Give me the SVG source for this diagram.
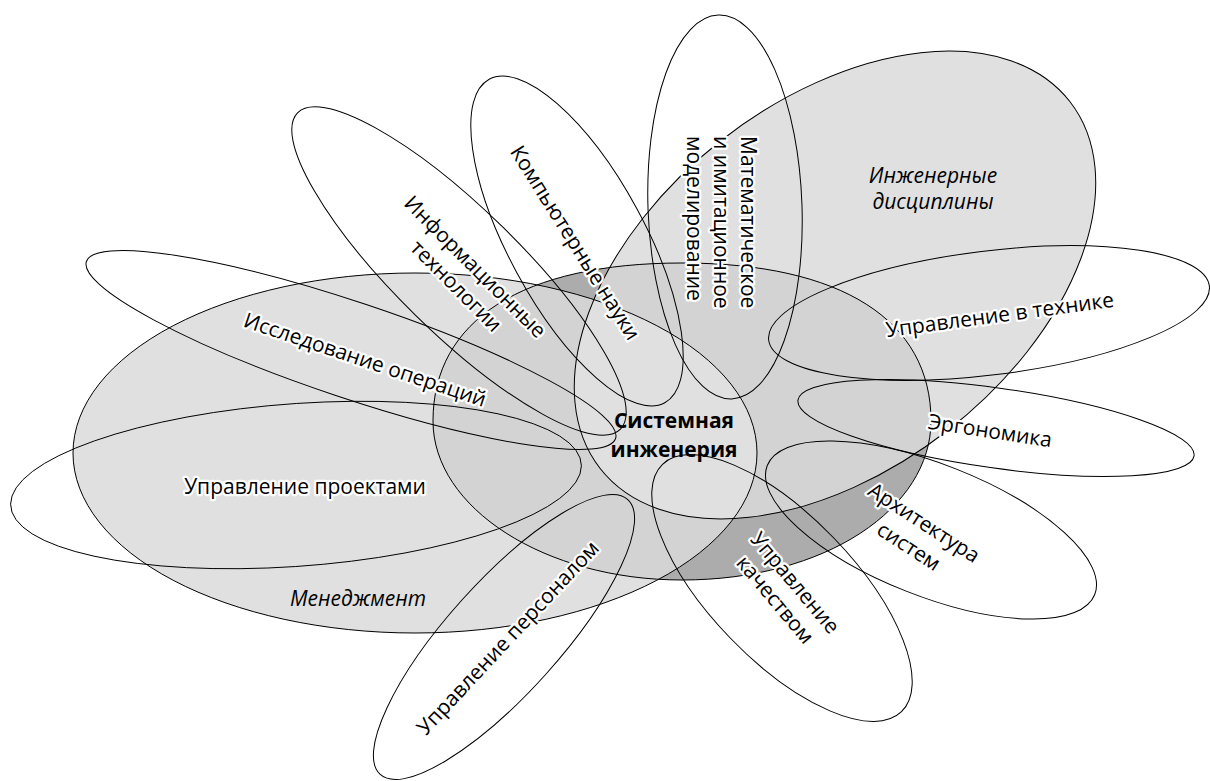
<svg xmlns="http://www.w3.org/2000/svg" width="1210" height="781" viewBox="0 0 1210 781">
<style>
.ol{fill:none;stroke:#000;stroke-width:1}
.lb{font-family:"Open Sans","Liberation Sans",sans-serif;font-size:21px;fill:#000;text-anchor:middle;stroke:#fff;stroke-width:4.5;stroke-linejoin:round;paint-order:stroke}
.it{font-family:"Open Sans","Liberation Sans",sans-serif;font-size:21px;font-style:italic;fill:#000;text-anchor:middle}
.bd{font-family:"Open Sans","Liberation Sans",sans-serif;font-size:21px;font-weight:bold;fill:#000;text-anchor:middle}
</style>
<defs>
<ellipse id="M" cx="415" cy="453" rx="342" ry="180"/>
<ellipse id="E" cx="835" cy="285" rx="298" ry="184" transform="rotate(-38 835 285)"/>
<path id="D" d="M433,421 C433,320 523,263 682,263 C841,263 931,320 931,421 C931,508 826,580 682,580 C545,580 433,508 433,421 Z"/>
<clipPath id="cD"><use href="#D"/></clipPath>
<clipPath id="cM"><use href="#M"/></clipPath>
</defs>
<g id="areas">
<use href="#M" fill="#e0e0e0"/>
<use href="#E" fill="#e0e0e0"/>
<use href="#D" fill="#acacac"/>
<g clip-path="url(#cD)"><use href="#M" fill="#d3d3d3"/><use href="#E" fill="#d3d3d3"/></g>
<g clip-path="url(#cM)"><use href="#E" fill="#e0e0e0"/></g>
<use href="#M" class="ol"/>
<use href="#E" class="ol"/>
<use href="#D" class="ol"/>
</g>
<g id="connectors">
<ellipse id="p-io" class="ol" cx="0" cy="0" rx="279" ry="48" transform="translate(351 350) rotate(18.5)"/>
<ellipse id="p-pm" class="ol" cx="0" cy="0" rx="284" ry="83" transform="matrix(1 -0.039 -0.34 1 296 485)" vector-effect="non-scaling-stroke"/>
<ellipse id="p-it" class="ol" cx="0" cy="0" rx="226" ry="62" transform="translate(459 271) rotate(44.4)"/>
<ellipse id="p-cs" class="ol" cx="0" cy="0" rx="184" ry="68" transform="translate(577 241) rotate(61.5)"/>
<ellipse id="p-mm" class="ol" cx="0" cy="0" rx="77" ry="192" transform="translate(725 207) rotate(-2)"/>
<ellipse id="p-ct" class="ol" cx="0" cy="0" rx="222" ry="62" transform="translate(989 313) rotate(-7)"/>
<ellipse id="p-er" class="ol" cx="0" cy="0" rx="200" ry="40" transform="translate(996 428) rotate(8)"/>
<ellipse id="p-ar" class="ol" cx="0" cy="0" rx="176" ry="66" transform="translate(931 530) rotate(21.5)"/>
<ellipse id="p-qm" class="ol" cx="0" cy="0" rx="172" ry="72" transform="translate(782 588) rotate(46)"/>
<ellipse id="p-hr" class="ol" cx="0" cy="0" rx="185" ry="56" transform="translate(504 637) rotate(-48)"/>
</g>
<g id="labels">
<text class="it" x="933" y="183">Инженерные</text>
<text class="it" x="933" y="209">дисциплины</text>
<text class="it" x="358" y="606">Менеджмент</text>
<g id="n-se"><text class="bd" x="674" y="428">Системная</text>
<text class="bd" x="674" y="457">инженерия</text></g>
<g id="n-pm"><text class="lb" x="305" y="494">Управление проектами</text></g>
<g id="n-io" transform="translate(365 360) rotate(18.5)"><text class="lb" x="0" y="7">Исследование операций</text></g>
<g id="n-it" transform="translate(475 267) rotate(45)"><text class="lb" x="0" y="7">Информационные</text><text class="lb" x="0" y="34">технологии</text></g>
<g id="n-cs" transform="translate(575 243) rotate(58)"><text class="lb" x="0" y="7">Компьютерные науки</text></g>
<g id="n-mm" transform="translate(741 136) rotate(90)"><text class="lb" style="text-anchor:start" x="0" y="0">Математическое</text><text class="lb" style="text-anchor:start" x="0" y="27">и имитационное</text><text class="lb" style="text-anchor:start" x="0" y="54">моделирование</text></g>
<g id="n-ct" transform="translate(1000 315) rotate(-7.6)"><text class="lb" x="0" y="7">Управление в технике</text></g>
<g id="n-er" transform="translate(990 431) rotate(8.7)"><text class="lb" x="0" y="7">Эргономика</text></g>
<g id="n-ar" transform="translate(924 523) rotate(33)"><text class="lb" x="0" y="7">Архитектура</text><text class="lb" x="0" y="35">систем</text></g>
<g id="n-qm" transform="translate(795 583) rotate(50)"><text class="lb" x="0" y="7">Управление</text><text class="lb" x="0" y="33">качеством</text></g>
<g id="n-hr" transform="translate(508 638) rotate(-47)"><text class="lb" x="0" y="7">Управление персоналом</text></g>
</g>
</svg>
